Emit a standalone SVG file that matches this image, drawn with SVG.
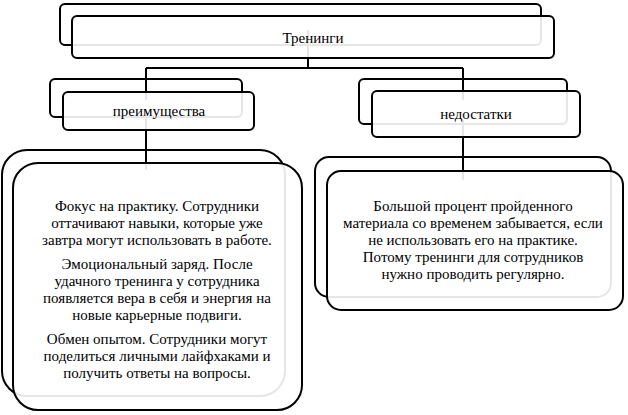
<svg xmlns="http://www.w3.org/2000/svg" width="628" height="415" viewBox="0 0 628 415">
<style>
.back{fill:#fff;stroke:#000;stroke-width:2}
.front{fill:#fff;fill-opacity:0.9;stroke:#000;stroke-width:2}
.conn{fill:none;stroke:#000;stroke-width:2}
</style>
<rect width="628" height="415" fill="#fff"/>
<g id="top">
<rect class="back" x="60" y="4" width="481" height="41" rx="5"/>
</g>
<g id="left-head">
<rect class="back" x="50" y="79" width="192" height="38" rx="5"/>
</g>
<g id="right-head">
<rect class="back" x="359" y="79" width="208" height="45" rx="5"/>
</g>
<g id="left-body">
<rect class="back" x="2" y="150" width="283" height="246" rx="25"/>
</g>
<g id="right-body">
<rect class="back" x="315" y="157" width="296" height="140" rx="14"/>
</g>
<g id="connectors">
<path class="conn" d="M308,30 V68 M146,68 H463 M146,68 V100 M463,68 V100 M146,110 V170 M463,120 V180"/>
</g>
<g id="top-front">
<rect class="front" x="72" y="16" width="482" height="42" rx="5"/>
<text x="313" y="43" font-family="Times New Roman" font-size="15px" text-anchor="middle">Тренинги</text>
</g>
<g id="left-head-front">
<rect class="front" x="63" y="92" width="191" height="38" rx="5"/>
<text x="159" y="116" font-family="Times New Roman" font-size="15px" text-anchor="middle">преимущества</text>
</g>
<g id="right-head-front">
<rect class="front" x="372" y="91" width="208" height="46" rx="5"/>
<text x="476" y="119" font-family="Times New Roman" font-size="15px" text-anchor="middle">недостатки</text>
</g>
<g id="left-body-front">
<rect class="front" x="13" y="163" width="289" height="247" rx="25"/>
<text x="157" y="211" font-family="Times New Roman" font-size="15px" text-anchor="middle">Фокус на практику. Сотрудники</text>
<text x="157" y="228" font-family="Times New Roman" font-size="15px" text-anchor="middle">оттачивают навыки, которые уже</text>
<text x="157" y="245" font-family="Times New Roman" font-size="15px" text-anchor="middle">завтра могут использовать в работе.</text>
<text x="157" y="269" font-family="Times New Roman" font-size="15px" text-anchor="middle">Эмоциональный заряд. После</text>
<text x="157" y="286" font-family="Times New Roman" font-size="15px" text-anchor="middle">удачного тренинга у сотрудника</text>
<text x="157" y="303" font-family="Times New Roman" font-size="15px" text-anchor="middle">появляется вера в себя и энергия на</text>
<text x="157" y="320" font-family="Times New Roman" font-size="15px" text-anchor="middle">новые карьерные подвиги.</text>
<text x="157" y="344" font-family="Times New Roman" font-size="15px" text-anchor="middle">Обмен опытом. Сотрудники могут</text>
<text x="157" y="361" font-family="Times New Roman" font-size="15px" text-anchor="middle">поделиться личными лайфхаками и</text>
<text x="157" y="378" font-family="Times New Roman" font-size="15px" text-anchor="middle">получить ответы на вопросы.</text>
</g>
<g id="right-body-front">
<rect class="front" x="327" y="171" width="296" height="139" rx="14"/>
<text x="473" y="211" font-family="Times New Roman" font-size="15px" text-anchor="middle">Большой процент пройденного</text>
<text x="473" y="228" font-family="Times New Roman" font-size="15px" text-anchor="middle">материала со временем забывается, если</text>
<text x="473" y="245" font-family="Times New Roman" font-size="15px" text-anchor="middle">не использовать его на практике.</text>
<text x="473" y="262" font-family="Times New Roman" font-size="15px" text-anchor="middle">Потому тренинги для сотрудников</text>
<text x="473" y="279" font-family="Times New Roman" font-size="15px" text-anchor="middle">нужно проводить регулярно.</text>
</g>
</svg>
